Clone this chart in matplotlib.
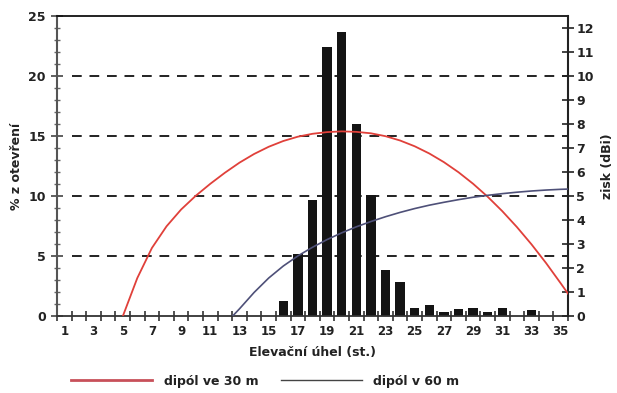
import numpy as np
import matplotlib
matplotlib.use("Agg")
import matplotlib.pyplot as plt
from matplotlib.lines import Line2D

# elevation categories and share of openings (%)
angles = np.arange(1, 36)
share = [0, 0, 0, 0, 0, 0, 0, 0, 0, 0, 0, 0, 0, 0, 0,
         1.3, 5.2, 9.7, 22.4, 23.7, 16.0, 10.1, 3.9, 2.9, 0.7,
         0.95, 0.4, 0.6, 0.7, 0.37, 0.7, 0, 0.55, 0, 0]

# gain of the dipoles (dBi), right axis
x30 = [5, 6, 7, 8, 9, 10, 11, 12, 13, 14, 15, 16, 17, 18, 19, 20,
       21, 22, 23, 24, 25, 26, 27, 28, 29, 30, 31, 32, 33, 34, 35, 35.5]
g30 = [0, 1.6, 2.85, 3.75, 4.45, 5.02, 5.52, 5.98, 6.4, 6.76, 7.06, 7.3, 7.48, 7.6, 7.67, 7.7,
       7.68, 7.62, 7.5, 7.32, 7.08, 6.78, 6.42, 6.0, 5.52, 4.98, 4.38, 3.72, 3.0, 2.22, 1.38, 0.95]
x60 = [12.5, 13, 14, 15, 16, 17, 18, 19, 20, 21, 22, 23, 24, 25,
       26, 27, 28, 29, 30, 31, 32, 33, 34, 35, 35.5]
g60 = [0, 0.32, 1.0, 1.6, 2.1, 2.52, 2.88, 3.2, 3.48, 3.73, 3.95, 4.15, 4.33, 4.49,
       4.63, 4.75, 4.86, 4.96, 5.04, 5.11, 5.17, 5.22, 5.26, 5.29, 5.3]

xticks = np.arange(1, 36, 2)
left_ticks = [0, 5, 10, 15, 20, 25]
right_ticks = np.arange(0, 13)
grid_levels = [5, 10, 15, 20]

txt = "#222222"
red = "#e0403a"
blue = "#4e5078"

plt.rcParams["font.family"] = ["DejaVu Sans"]
plt.rcParams["font.weight"] = "bold"

fig = plt.figure(figsize=(6.17, 3.93), dpi=100)
ax = fig.add_axes([0.0924, 0.1947, 0.8282, 0.7646])

for lv in grid_levels:
    ax.axhline(lv, xmin=0.03, xmax=1, color="#222222", lw=1.4,
               dashes=(5, 4), zorder=1)

ax.bar(angles, share, width=0.65, color="#141414", zorder=2)

ax.set_xlim(0.5, 35.5)
ax.set_ylim(0, 25)
ax.set_xticks(xticks)
ax.set_xticklabels([str(v) for v in xticks])
ax.set_xticks(np.arange(0.5, 36, 1), minor=True)
ax.tick_params(axis="x", which="major", length=0, pad=6, labelsize=8.5, labelcolor=txt)
ax.tick_params(axis="x", which="minor", length=7, direction="inout", width=1.2, color="#333333")
ax.set_yticks(left_ticks)
ax.set_yticks(np.arange(0, 26, 1), minor=True)
ax.tick_params(axis="y", which="major", length=9, direction="inout", width=1.2,
               labelsize=9, labelcolor=txt, color="#444444")
ax.tick_params(axis="y", which="minor", length=4, direction="inout", width=1, color="#666666")

ax.spines["left"].set_color("#555555")
ax.spines["left"].set_linewidth(1.5)
ax.spines["bottom"].set_color("#333333")
ax.spines["bottom"].set_linewidth(1.3)
ax.spines["top"].set_color("#111111")
ax.spines["top"].set_linewidth(1.3)
ax.spines["right"].set_visible(False)

ax.set_ylabel("% z otevření", fontsize=9, fontweight="bold", color=txt, labelpad=4)
ax.set_xlabel("Elevační úhel (st.)", fontsize=9, fontweight="bold", color=txt, labelpad=6)

ax2 = ax.twinx()
ax2.set_ylim(0, 12.5)
ax2.set_yticks(right_ticks)
ax2.tick_params(axis="y", length=8, direction="inout", width=1.2,
                labelsize=9, labelcolor=txt, color="#222222", pad=2)
ax2.spines["right"].set_color("#222222")
ax2.spines["right"].set_linewidth(1.5)
for s in ["left", "top", "bottom"]:
    ax2.spines[s].set_visible(False)
ax2.set_ylabel("zisk (dBi)", fontsize=9, fontweight="bold", color=txt, labelpad=5)

ax2.plot(x30, g30, color=red, lw=1.3, zorder=3)
ax2.plot(x60, g60, color=blue, lw=1.2, zorder=3)

handles = [Line2D([], [], color="#c8505a", lw=2.0),
           Line2D([], [], color="#444444", lw=1.0)]
fig.legend(handles, ["dipól ve 30 m", "dipól v 60 m"], loc="center",
           bbox_to_anchor=(0.43, 0.03), ncol=2, frameon=False, fontsize=9,
           handlelength=6.5, columnspacing=1.8, handletextpad=0.9,
           labelcolor=txt)

fig.savefig("out.png", dpi=100)
